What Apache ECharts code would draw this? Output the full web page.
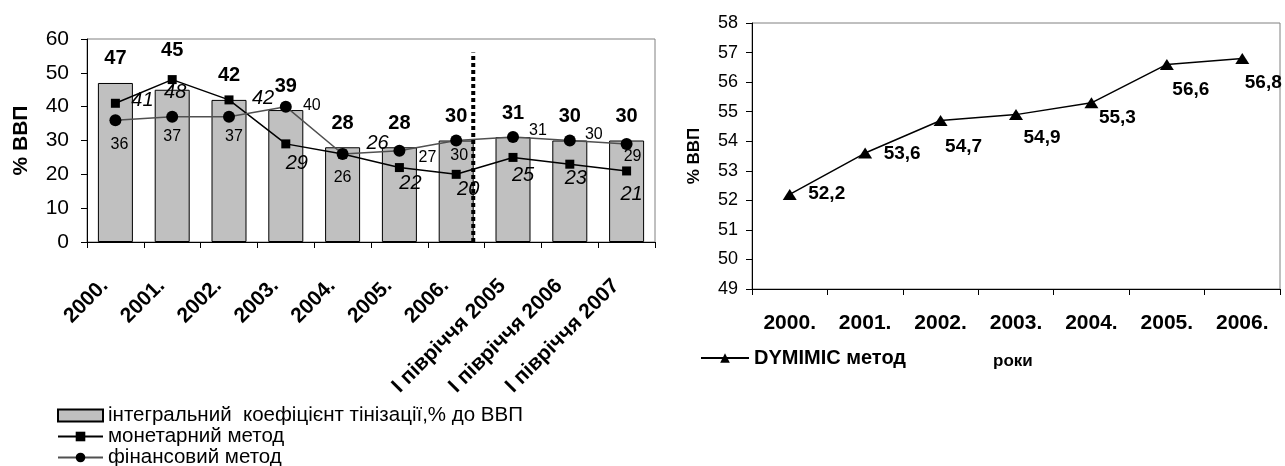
<!DOCTYPE html>
<html>
<head>
<meta charset="utf-8">
<script src="https://cdn.jsdelivr.net/npm/echarts@6/dist/echarts.min.js"></script>
<style>
  html, body { margin: 0; padding: 0; background: #fff; }
  #chart { width: 1285px; height: 466px; }
</style>
</head>
<body>
<div id="chart"></div>
<script>
// Shadow economy estimates, % of GDP
const categories = ['2000.', '2001.', '2002.', '2003.', '2004.', '2005.', '2006.',
  'I півріччя 2005', 'I півріччя 2006', 'I півріччя 2007'];
const integralValues = [47, 45, 42, 39, 28, 28, 30, 31, 30, 30];
const monetaryValues = [41, 48, 42, 29, 26, 22, 20, 25, 23, 21];
const financialValues = [36, 37, 37, 40, 26, 27, 30, 31, 30, 29];

// Separator between annual and half-year figures (category-index units)
const dividerAt = 6.3;
const dividerTop = 56;

// DYMIMIC model estimates
const dymimicYears = ['2000.', '2001.', '2002.', '2003.', '2004.', '2005.', '2006.'];
const dymimicValues = [52.2, 53.6, 54.7, 54.9, 55.3, 56.6, 56.8];

// Axis ranges
const leftAxis = { min: 0, max: 60, interval: 10 };
const rightAxis = { min: 49, max: 58, interval: 1 };

// Label placement around the markers, [dx, dy] from the point
const monetaryLabelOffsets = [[27, -3], [3, 13], [34, -1], [11, 20], [35, -11],
  [11, 16], [12, 15], [10, 18], [6, 14], [5, 23]];
const financialLabelOffsets = [[4, 24], [0, 20], [5, 20], [26, -1], [0, 24],
  [28, 7], [3, 15], [25, -7], [24, -6], [6, 13]];
const dymimicLabelOffsets = [[37, -1], [37, 1], [23, 26], [26, 23], [26, 15], [24, 25], [21, 24]];
const barLabelShift = [0, -15, 0, 0, 0, 0, 0, 0, 0, 0];

const FONT = "'Liberation Sans', Arial, sans-serif";
const chart = echarts.init(document.getElementById('chart'), null, { renderer: 'canvas' });

const axisLine = { show: true, onZero: false, lineStyle: { color: '#000', width: 1 } };
const axisTick = { show: true, length: 6, lineStyle: { color: '#000', width: 1 } };

const option = {
  animation: false,
  backgroundColor: '#fff',
  textStyle: { fontFamily: FONT, color: '#000' },
  grid: [
    { left: 87, top: 39, width: 568, height: 203, show: true, borderColor: '#808080', borderWidth: 1, backgroundColor: 'transparent' },
    { left: 752, top: 23, width: 528, height: 266, show: true, borderColor: '#808080', borderWidth: 1, backgroundColor: 'transparent' }
  ],
  xAxis: [
    {
      type: 'category', gridIndex: 0, data: categories, boundaryGap: true,
      axisLine, axisTick,
      axisLabel: {
        rotate: 45, interval: 0, margin: 30, padding: [0, 15, 0, 0],
        fontSize: 21, fontWeight: 'bold', color: '#000', fontFamily: FONT
      }
    },
    {
      // hidden numeric axis for the separator line
      type: 'value', gridIndex: 0, min: -0.5, max: categories.length - 0.5, show: false
    },
    {
      type: 'category', gridIndex: 1, data: dymimicYears, boundaryGap: true,
      axisLine, axisTick,
      axisLabel: { interval: 0, margin: 24, fontSize: 21, fontWeight: 'bold', color: '#000', fontFamily: FONT }
    }
  ],
  yAxis: [
    {
      type: 'value', gridIndex: 0, min: leftAxis.min, max: leftAxis.max, interval: leftAxis.interval,
      axisLine, axisTick, splitLine: { show: false },
      axisLabel: { margin: 18, fontSize: 21, color: '#000', fontFamily: FONT },
      name: '% ВВП', nameLocation: 'middle', nameGap: 55, nameRotate: 90,
      nameTextStyle: { fontSize: 21, fontWeight: 'bold', color: '#000', fontFamily: FONT }
    },
    {
      type: 'value', gridIndex: 1, min: rightAxis.min, max: rightAxis.max, interval: rightAxis.interval,
      axisLine, axisTick, splitLine: { show: false },
      axisLabel: { margin: 14, fontSize: 18, color: '#000', fontFamily: FONT },
      name: '% ВВП', nameLocation: 'middle', nameGap: 49, nameRotate: 90,
      nameTextStyle: { fontSize: 17, fontWeight: 'bold', color: '#000', fontFamily: FONT }
    }
  ],
  legend: [
    {
      orient: 'vertical', left: 57, top: 405, height: 90, padding: 0,
      itemWidth: 45, itemHeight: 12, itemGap: 0,
      textStyle: { fontSize: 20.5, color: '#000', fontFamily: FONT, lineHeight: 21 },
      data: [
        { name: 'інтегральний  коефіцієнт тінізації,% до ВВП', icon: 'rect' },
        { name: 'монетарний метод' },
        { name: 'фінансовий метод' }
      ]
    },
    {
      orient: 'horizontal', left: 700, top: 348, padding: 0, itemWidth: 48, itemHeight: 12,
      textStyle: { fontSize: 20, fontWeight: 'bold', color: '#000', fontFamily: FONT },
      data: [{ name: 'DYMIMIC метод' }]
    }
  ],
  graphic: [
    {
      type: 'text', left: 993, top: 353,
      style: { text: 'роки', font: "bold 17px 'Liberation Sans', Arial, sans-serif", fill: '#000' }
    }
  ],
  series: [
    {
      name: 'інтегральний  коефіцієнт тінізації,% до ВВП',
      type: 'bar', xAxisIndex: 0, yAxisIndex: 0, barWidth: 35,
      itemStyle: { color: '#c0c0c0', borderColor: '#000', borderWidth: 1 },
      label: { show: true, position: 'top', distance: 14, fontSize: 20, fontWeight: 'bold', color: '#000', fontFamily: FONT },
      data: integralValues.map((v, i) => ({ value: v, label: { offset: [0, barLabelShift[i]] } })),
      z: 2
    },
    {
      name: 'монетарний метод',
      type: 'line', xAxisIndex: 0, yAxisIndex: 0,
      symbol: 'rect', symbolSize: 9,
      lineStyle: { color: '#000', width: 1.5 },
      itemStyle: { color: '#000' },
      label: { show: true, position: 'inside', fontSize: 20, fontStyle: 'italic', color: '#000', fontFamily: FONT },
      data: monetaryValues.map((v, i) => ({ value: v, label: { offset: monetaryLabelOffsets[i] } })),
      z: 3
    },
    {
      name: 'фінансовий метод',
      type: 'line', xAxisIndex: 0, yAxisIndex: 0,
      symbol: 'circle', symbolSize: 12,
      lineStyle: { color: '#505050', width: 1.5 },
      itemStyle: { color: '#000' },
      label: { show: true, position: 'inside', fontSize: 16, color: '#000', fontFamily: FONT },
      data: financialValues.map((v, i) => ({ value: v, label: { offset: financialLabelOffsets[i] } })),
      z: 4
    },
    {
      name: 'divider',
      type: 'line', xAxisIndex: 1, yAxisIndex: 0,
      symbol: 'none', silent: true,
      lineStyle: { color: '#000', width: 4, type: [4, 3] },
      data: [[dividerAt, leftAxis.min], [dividerAt, dividerTop]],
      z: 5
    },
    {
      name: 'DYMIMIC метод',
      type: 'line', xAxisIndex: 2, yAxisIndex: 1,
      symbol: 'triangle', symbolSize: [14, 11],
      lineStyle: { color: '#000', width: 1.5 },
      itemStyle: { color: '#000' },
      label: {
        show: true, position: 'inside', fontSize: 19, fontWeight: 'bold', color: '#000', fontFamily: FONT,
        formatter: p => String(p.value).replace('.', ',')
      },
      data: dymimicValues.map((v, i) => ({ value: v, label: { offset: dymimicLabelOffsets[i] } })),
      z: 3
    }
  ]
};

chart.setOption(option);
</script>
</body>
</html>
